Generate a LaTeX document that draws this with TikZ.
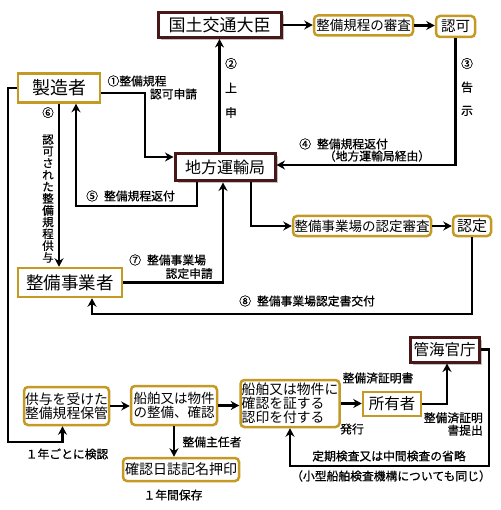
\documentclass[tikz,border=0pt]{standalone}
\usepackage{fontspec}
\setmainfont{Noto Sans CJK JP}
\newfontfamily\notefont[FakeBold=0.6]{Noto Sans CJK JP}
\usetikzlibrary{arrows.meta,shadows}
\definecolor{ochre}{RGB}{196,154,36}
\definecolor{maroon}{RGB}{72,24,24}

\begin{document}
\begin{tikzpicture}[
    x=1pt, y=-1pt,
    >={Stealth[length=8.5pt,width=9pt]},
    govbox/.style={draw=maroon, line width=3pt, fill=white, inner sep=0pt,
      drop shadow={shadow xshift=2.5pt, shadow yshift=-2.5pt, fill=black!40, opacity=.6}},
    partybox/.style={draw=ochre, line width=2.5pt, fill=white, inner sep=0pt},
    stepbox/.style={draw=ochre, line width=2.5pt, fill=white, rounded corners=4pt, inner sep=0pt},
    flow/.style={->, line width=2.4pt},
    note/.style={font=\notefont\fontsize{11.8}{12}\selectfont, inner sep=0pt}
]
\useasboundingbox (0,0) rectangle (500,510);

% ---- authorities ----
\node[govbox, minimum width=123pt, minimum height=25pt, font=\fontsize{17}{17}\selectfont]
  (minister) at (219.5,25) {国土交通大臣};
\node[govbox, minimum width=100pt, minimum height=27pt, font=\fontsize{16}{16}\selectfont]
  (bureau) at (225,167.5) {地方運輸局};
\node[govbox, minimum width=69pt, minimum height=25pt, font=\fontsize{15.5}{15.5}\selectfont]
  (office) at (444.5,349.5) {管海官庁};

% ---- parties ----
\node[partybox, minimum width=82pt, minimum height=29pt, font=\fontsize{18}{18}\selectfont]
  (maker) at (59,88) {製造者};
\node[partybox, minimum width=104pt, minimum height=29pt, font=\fontsize{17.5}{17.5}\selectfont]
  (shop) at (70,282.5) {整備事業者};
\node[partybox, minimum width=58pt, minimum height=24pt, font=\fontsize{15.5}{15.5}\selectfont]
  (owner) at (392,404) {所有者};

% ---- procedure steps ----
\node[stepbox, minimum width=99pt, minimum height=20pt, font=\fontsize{13.5}{13.5}\selectfont]
  (review) at (363.5,25.5) {整備規程の審査};
\node[stepbox, minimum width=39pt, minimum height=21pt, font=\fontsize{14.5}{14.5}\selectfont]
  (approve) at (455.5,26.5) {認可};
\node[stepbox, minimum width=138pt, minimum height=20pt, font=\fontsize{13.5}{13.5}\selectfont]
  (certreview) at (362,226) {整備事業場の認定審査};
\node[stepbox, minimum width=38pt, minimum height=20pt, font=\fontsize{15}{15}\selectfont]
  (certify) at (472,226) {認定};
\node[stepbox, minimum width=85pt, minimum height=38pt, align=left, font=\fontsize{13.8}{14}\selectfont]
  (keep) at (66.5,406) {供与を受けた\\整備規程保管};
\node[stepbox, minimum width=86pt, minimum height=39pt, align=left, font=\fontsize{13.5}{14}\selectfont]
  (service) at (174,405.5) {船舶又は物件\\の整備、確認};
\node[stepbox, minimum width=99pt, minimum height=47pt, align=left, font=\fontsize{13.8}{13.8}\selectfont]
  (stamp) at (290,403.5) {船舶又は物件に\\確認を証する\\認印を付する};
\node[stepbox, minimum width=116pt, minimum height=23pt, font=\fontsize{14}{14}\selectfont]
  (logbook) at (181,469.5) {確認日誌記名押印};

% ---- bends ----
\coordinate (bend1) at (145,157);
\coordinate (bend5) at (76,206);
\coordinate (bend8) at (92,314);
\coordinate (bend11) at (8,442);
\coordinate (bend12) at (489,466);

% ---- connectors ----
\draw[flow] (minister.east) -- (minister.east -| review.west);
\draw[flow] (review.east) -- (review.east -| approve.west);
\draw[flow] (approve.south) |- ([yshift=2.5pt]bureau.east);
\draw[flow] ([yshift=-5pt]maker.east) -| (bend1) -- (bend1 -| bureau.west);
\draw[flow] (bureau.north -| minister.south) -- (minister.south);
\draw[flow] ([xshift=-28pt]bureau.south) |- (bend5) -- (bend5 |- maker.south);
\draw[flow] (maker.south) -- (maker.south |- shop.north);
\draw[flow] (shop.east) -| ([xshift=-2pt]bureau.south);
\draw[flow] ([xshift=26pt]bureau.south) |- (certreview.west);
\draw[flow] (certreview.east) -- (certreview.east -| certify.west);
\draw[flow] (certify.south) |- (bend8) -- (bend8 |- shop.south);
\draw[flow] (maker.west) -| (bend11) -| ([xshift=-4pt]keep.south);
\draw[flow] (keep.east) -- (keep.east -| service.west);
\draw[flow] (service.east) -- (service.east -| stamp.west);
\draw[flow] (service.south) -- (service.south |- logbook.north);
\draw[flow] (stamp.east) -- (stamp.east -| owner.west);
\draw[flow] (owner.east) -| ([xshift=2.5pt]office.south);
\draw[flow] (office.east) -| (bend12) -| (stamp.south);

% ---- labels ----
\node[note] (l1a) at (137,81) {①整備規程};
\node[note] (l1b) at (173.5,94) {認可申請};
\node[note, align=center, font=\notefont\fontsize{11.8}{24.5}\selectfont] (l2) at (231,88) {②\\上\\申};
\node[note, align=center, font=\notefont\fontsize{11.8}{23.5}\selectfont] (l3) at (467,87) {③\\告\\示};
\node[note, anchor=west] (l4a) at (299,144) {④\hspace{6pt}整備規程返付};
\node[note] (l4b) at (377,156) {（地方運輸局経由）};
\node[note, anchor=west] (l5) at (86,196) {⑤\hspace{6pt}整備規程返付};
\node[note, align=center, font=\notefont\fontsize{11.5}{11.8}\selectfont] (l6) at (48,185)
  {⑥\\[15pt]認\\可\\さ\\れ\\た\\整\\備\\規\\程\\供\\与};
\node[note, anchor=west] (l7a) at (129,260) {⑦\hspace{6pt}整備事業場};
\node[note, anchor=east] (l7b) at (213,273.5) {認定申請};
\node[note, anchor=west] (l8) at (239,301) {⑧\hspace{6pt}整備事業場認定書交付};
\node[note] (lyear) at (67,454) {１年ごとに検認};
\node[note] (lchief) at (212,442) {整備主任者};
\node[note] (lkeep) at (173,495) {１年間保存};
\node[note] (lcert) at (378,378) {整備済証明書};
\node[note] (lissue) at (352,429) {発行};
\node[note, anchor=east, align=right, font=\notefont\fontsize{11.8}{12.5}\selectfont] (lsubmit) at (483,424)
  {整備済証明\\書提出};
\node[note] (lskip) at (389,456) {定期検査又は中間検査の省略};
\node[note] (lsmall) at (391,476) {（小型船舶検査機構についても同じ）};

\end{tikzpicture}
\end{document}
